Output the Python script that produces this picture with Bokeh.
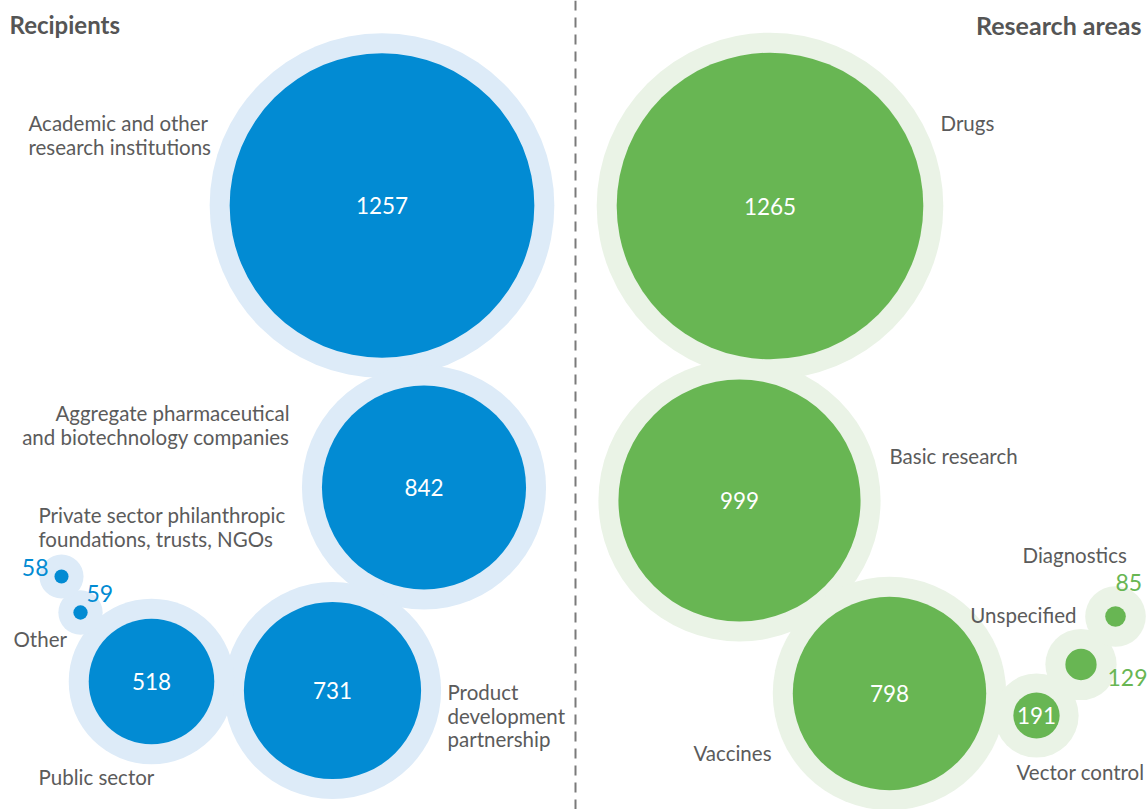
from bokeh.plotting import figure
from bokeh.models import Range1d, ColumnDataSource, Span
from bokeh.core.properties import value
from bokeh.embed import file_html
from bokeh.resources import INLINE

# ---------------- data ----------------
recip_labels = ["Academic and other\nresearch institutions",
                "Aggregate pharmaceutical\nand biotechnology companies",
                "Product\ndevelopment\npartnership",
                "Public sector",
                "Other",
                "Private sector philanthropic\nfoundations, trusts, NGOs"]
recip_values = [1257, 842, 731, 518, 59, 58]

area_labels = ["Drugs", "Basic research", "Vaccines", "Vector control",
               "Unspecified", "Diagnostics"]
area_values = [1265, 999, 798, 191, 129, 85]

titles = ["Recipients", "Research areas"]

# ---------------- layout (screen pixels) ----------------
SCALE = 0.1212          # radius in px per unit of value
recip_centers = [(381.5, 205), (423.5, 487), (332, 690), (151, 681), (80, 612), (61, 576)]
area_centers = [(769.5, 205.5), (739, 500), (889, 693), (1036, 715), (1080.5, 664), (1115, 616)]
recip_halo = [20, 20, 20, 20, 15, 15]
area_halo = [20, 20, 20, 19, 20, 20]

# label anchor: (x, y of first line, align)
recip_label_pos = [(28, 122.5, "left"), (289, 412.5, "right"), (447, 691.5, "left"),
                   (38, 776.5, "left"), (13, 638.5, "left"), (38, 514.5, "left")]
area_label_pos = [(940, 122.5, "left"), (889, 455.5, "left"), (693, 752.5, "left"),
                  (1016, 771.5, "left"), (1076, 614.5, "right"), (1022, 554.5, "left")]
# value label placement: None = inside circle
recip_val_pos = [None, None, None, None, (86, 593, "left"), (48, 567, "right")]
area_val_pos = [None, None, None, None, (1107, 677, "left"), (1115, 582, "left")]

BLUE, BLUE_HALO = "#028BD3", "#DDEBF8"
GREEN, GREEN_HALO = "#68B653", "#EAF3E6"
GREY = "#5b5b5b"
FONT = "Lato"
LINE_H = 23.5

W, H = 1147, 809
p = figure(width=W, height=H, x_range=Range1d(0, W), y_range=Range1d(H, 0),
           output_backend="svg", toolbar_location=None, min_border=0)
p.axis.visible = False
p.grid.visible = False
p.outline_line_color = None
p.background_fill_color = "white"


def draw(values, centers, halos, color, halo_color, labels, lpos, vpos):
    xs = [c[0] for c in centers]
    ys = [c[1] for c in centers]
    r = [v * SCALE for v in values]
    src = ColumnDataSource(dict(x=xs, y=ys, r=r,
                                R=[ri + h for ri, h in zip(r, halos)],
                                t=[str(v) for v in values]))
    p.circle(x="x", y="y", radius="R", source=src, fill_color=halo_color, line_color=None)
    p.circle(x="x", y="y", radius="r", source=src, fill_color=color, line_color=None)
    # values
    inside = [i for i, vp in enumerate(vpos) if vp is None]
    p.text(x=[xs[i] for i in inside], y=[ys[i] for i in inside],
           text=[str(values[i]) for i in inside], text_color="white",
           text_font=value(FONT), text_font_size="22.5px",
           text_align="center", text_baseline="middle")
    for i, vp in enumerate(vpos):
        if vp is None:
            continue
        p.text(x=[vp[0]], y=[vp[1]], text=[str(values[i])], text_color=color,
               text_font=value(FONT), text_font_size="23px",
               text_align=vp[2], text_baseline="middle")
    # category labels
    lx, ly, lt, la = [], [], [], []
    for lab, (x0, y0, al) in zip(labels, lpos):
        for k, line in enumerate(lab.split("\n")):
            lx.append(x0)
            ly.append(y0 + k * LINE_H)
            lt.append(line)
            la.append(al)
    p.text(x=lx, y=ly, text=lt, text_align=la, text_color=GREY,
           text_font=value(FONT), text_font_size="20.5px", text_baseline="middle")


draw(recip_values, recip_centers, recip_halo, BLUE, BLUE_HALO,
     recip_labels, recip_label_pos, recip_val_pos)
draw(area_values, area_centers, area_halo, GREEN, GREEN_HALO,
     area_labels, area_label_pos, area_val_pos)

# titles
p.text(x=[9], y=[24], text=[titles[0]], text_font=value(FONT), text_font_size="24px",
       text_font_style="bold", text_color="#555555", text_align="left", text_baseline="middle")
p.text(x=[1141], y=[24], text=[titles[1]], text_font=value(FONT), text_font_size="25px",
       text_font_style="bold", text_color="#555555", text_align="right", text_baseline="middle")

# divider
p.add_layout(Span(location=575, dimension="height", line_color="#7a7a7a",
                  line_width=2, line_dash="10 7"))

open("out.html", "w").write(file_html(p, INLINE))
